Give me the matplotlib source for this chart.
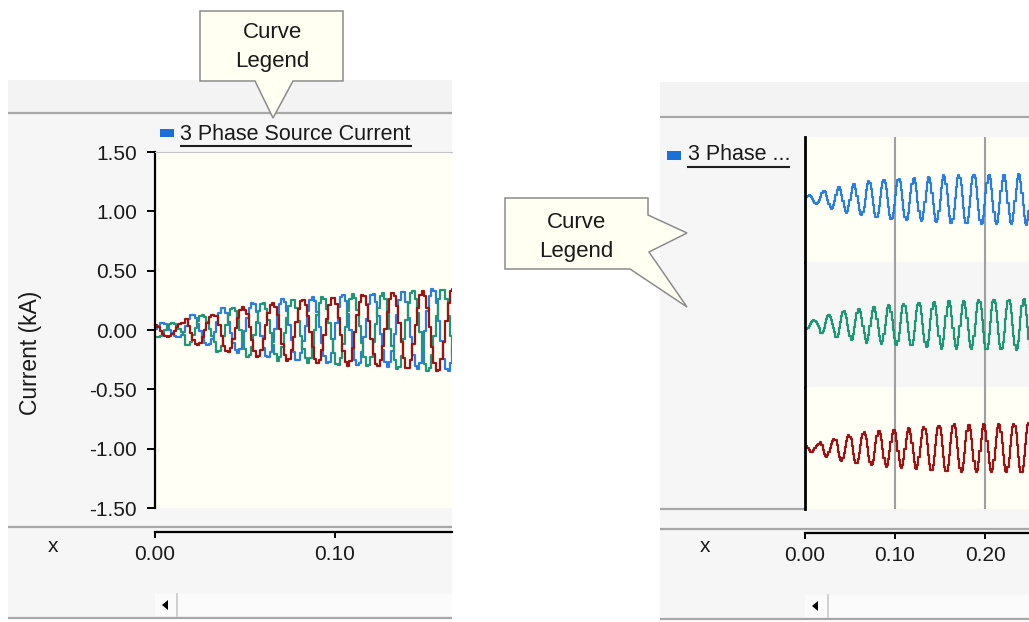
"""PSCAD-style graph frame: 3 phase source current, overlaid (left) and stacked (right)."""
import numpy as np
import matplotlib; matplotlib.use("Agg")
import matplotlib.pyplot as plt
from matplotlib.patches import Rectangle, Polygon

plt.rcParams["font.family"] = ["Liberation Sans", "DejaVu Sans"]
plt.rcParams["axes.unicode_minus"] = False

# ---- data ----
FREQ_HZ = 60
STEP_S = 0.0013                    # sample-and-hold step of the plotted trace
cycle_peak_ka = [0.06, 0.13, 0.19, 0.23, 0.26, 0.28, 0.30, 0.31,
                 0.33, 0.35, 0.35, 0.36, 0.36, 0.36, 0.37, 0.37]
phase_deg = [10, -110, 130]
phase_colors = ["#2a7de1", "#1f9676", "#9e1212"]
legend_full = "3 Phase Source Current"
legend_short = "3 Phase ..."
y_label = "Current (kA)"
y_ticks = [-1.5, -1.0, -0.5, 0.0, 0.5, 1.0, 1.5]
x_ticks_left = [0.00, 0.10]
x_ticks_right = [0.00, 0.10, 0.20]
callout_text = "Curve\nLegend"

W, H = 1029, 622
PANEL = "#f6f6f6"
IVORY = "#fffff6"
LINE = "#a8a8a8"
TXT = "#1a1a1a"


def fr(x0, y0, x1, y1):
    return [x0 / W, 1 - y1 / H, (x1 - x0) / W, (y1 - y0) / H]


t = np.arange(0, len(cycle_peak_ka) / FREQ_HZ, STEP_S)
amp = np.array(cycle_peak_ka)[(t * FREQ_HZ).astype(int)]
waves = [amp * np.sin(2 * np.pi * FREQ_HZ * t + np.radians(p)) for p in phase_deg]

fig = plt.figure(figsize=(W / 100, H / 100), dpi=100)
bg = fig.add_axes([0, 0, 1, 1])
bg.set_xlim(0, W); bg.set_ylim(H, 0); bg.axis("off")


def hline(y, x0, x1, c=LINE, lw=1.6):
    bg.plot([x0, x1], [y, y], color=c, lw=lw, solid_capstyle="butt")


# left frame
bg.add_patch(Rectangle((8, 80), 444, 538, fc=PANEL, ec="none"))
bg.add_patch(Rectangle((8, 80), 444, 33, fc="#f3f3f3", ec="none"))
hline(113, 8, 452); hline(527, 8, 452); hline(618, 8, 452)
bg.add_patch(Rectangle((160, 129), 14, 8, fc="#1a6fd8", ec="none"))
bg.text(180, 134, legend_full, fontsize=15.5, color=TXT, ha="left", va="center")
hline(146, 180, 412, c="#202020", lw=1.5)
bg.text(30, 353, y_label, fontsize=16.5, color=TXT, rotation=90, ha="center", va="center")
bg.text(53, 546, "x", fontsize=15, color=TXT, ha="center", va="center")
bg.add_patch(Rectangle((155, 594), 297, 22, fc="#fbfbfb", ec="none"))
bg.plot([177, 177], [594, 616], color="#c8c8c8", lw=1.2)
bg.add_patch(Polygon([(162, 605), (168, 600), (168, 610)], fc="black", ec="none"))

# right frame
bg.add_patch(Rectangle((660, 82), 369, 537, fc=PANEL, ec="none"))
bg.add_patch(Rectangle((660, 82), 369, 35, fc="#f3f3f3", ec="none"))
hline(117, 660, W); hline(529, 660, W); hline(619, 660, W)
hline(509, 660, 805)
bg.add_patch(Rectangle((667, 151), 14, 9, fc="#1a6fd8", ec="none"))
bg.text(688, 155, legend_short, fontsize=15.5, color=TXT, ha="left", va="center")
hline(167, 687, 790, c="#202020", lw=1.5)
bg.text(705, 547, "x", fontsize=15, color=TXT, ha="center", va="center")
bg.add_patch(Rectangle((805, 595), 224, 22, fc="#fbfbfb", ec="none"))
bg.plot([828, 828], [595, 617], color="#c8c8c8", lw=1.2)
bg.add_patch(Polygon([(812, 606), (818, 601), (818, 611)], fc="black", ec="none"))

# callouts
bg.add_patch(Polygon([(200, 11), (343, 11), (343, 81), (293, 81), (273, 118), (255, 81), (200, 81)],
                     fc="#fffff2", ec="#8c8c8c", lw=1.1, zorder=5))
bg.text(272, 47, callout_text, fontsize=16, color=TXT, ha="center", va="center",
        linespacing=1.45, zorder=6)
bg.add_patch(Polygon([(505, 198), (648, 198), (648, 215), (687, 233), (649, 252), (687, 307),
                      (630, 269), (505, 269)], fc="#fffff2", ec="#8c8c8c", lw=1.1, zorder=5))
bg.text(576, 237, callout_text, fontsize=16, color=TXT, ha="center", va="center",
        linespacing=1.45, zorder=6)

# left graph: all phases overlaid
xmax_l = (452 - 155) / 1800
axL = fig.add_axes(fr(155, 152, 452, 508))
axL.set_facecolor(IVORY)
for w, c in zip(waves, phase_colors):
    axL.plot(t, w, color=c, lw=1.6, drawstyle="steps-post")
axL.set_xlim(0, xmax_l); axL.set_ylim(-1.5, 1.5)
axL.set_yticks(y_ticks, [f"{v:.2f}" for v in y_ticks])
axL.set_xticks([])
for s in ("right", "bottom"):
    axL.spines[s].set_visible(False)
axL.spines["left"].set_linewidth(1.6)
axL.spines["top"].set_color("#c4c4c4")
axL.tick_params(axis="y", length=6, width=1.4, pad=7, labelsize=15, labelcolor=TXT)

axLx = fig.add_axes(fr(155, 531.5, 452, 532))
axLx.set_xlim(0, xmax_l)
axLx.set_xticks(x_ticks_left, [f"{v:.2f}" for v in x_ticks_left])
axLx.set_yticks([]); axLx.patch.set_alpha(0)
for s in ("left", "right", "top"):
    axLx.spines[s].set_visible(False)
axLx.spines["bottom"].set_linewidth(1.6)
axLx.tick_params(axis="x", length=4.5, width=1.4, pad=5, labelsize=15, labelcolor=TXT)

# right graph: one phase per row
xmax_r = (W - 805) / 900
rows = [(137, 262, IVORY), (262, 387, PANEL), (387, 509, IVORY)]
for (y0, y1, fc), w, c in zip(rows, waves, phase_colors):
    ax = fig.add_axes(fr(805, y0, W, y1))
    ax.set_facecolor(fc)
    ax.plot(t, w, color=c, lw=1.6, drawstyle="steps-post")
    ax.set_xlim(0, xmax_r); ax.set_ylim(-0.9, 0.9)
    ax.set_xticks(x_ticks_right[1:]); ax.set_yticks([])
    ax.grid(axis="x", color="#a0a0a0", lw=1.5)
    ax.tick_params(length=0, labelbottom=False)
    for s in ("right", "bottom", "top"):
        ax.spines[s].set_visible(False)
    ax.spines["left"].set_linewidth(2)

axRx = fig.add_axes(fr(805, 532.5, W, 533))
axRx.set_xlim(0, xmax_r)
axRx.set_xticks(x_ticks_right, [f"{v:.2f}" for v in x_ticks_right])
axRx.set_yticks([]); axRx.patch.set_alpha(0)
for s in ("left", "right", "top"):
    axRx.spines[s].set_visible(False)
axRx.spines["bottom"].set_linewidth(1.6)
axRx.tick_params(axis="x", length=4.5, width=1.4, pad=5, labelsize=15, labelcolor=TXT)

fig.savefig("out.png", dpi=100)
